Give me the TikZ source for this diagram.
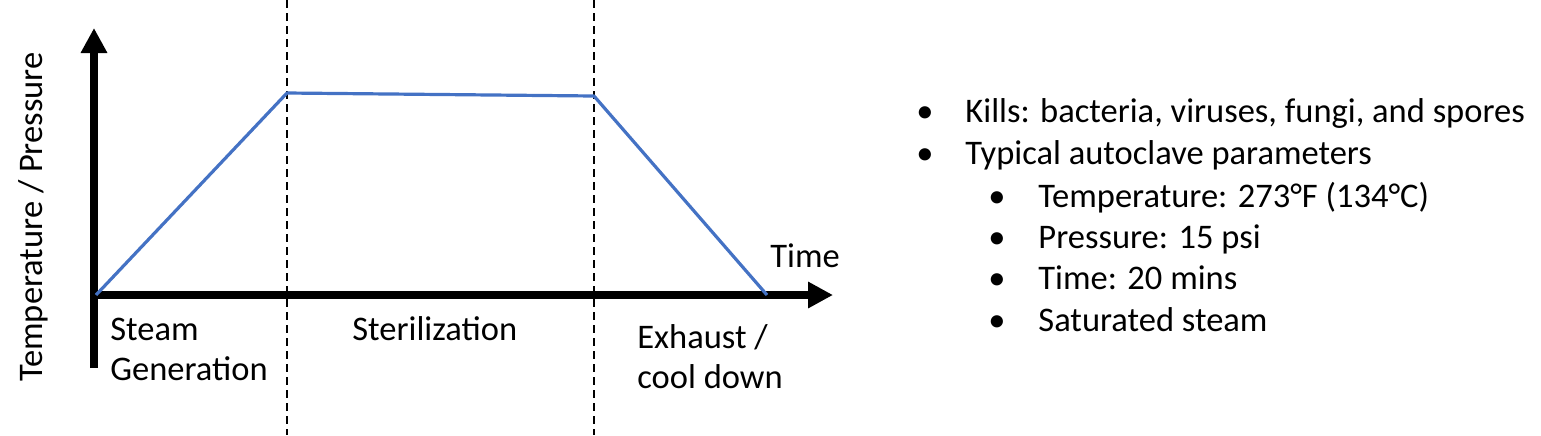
\documentclass[tikz,border=0pt]{standalone}
\usepackage{fontspec}
\setmainfont{Carlito}
\usepackage{xcolor}
\usetikzlibrary{arrows.meta}
\definecolor{curveblue}{HTML}{4472C4}

\begin{document}
\begin{tikzpicture}[x=0.5pt,y=-0.5pt,
		lbl/.style={anchor=base west,inner sep=0pt,font=\fontsize{17.25}{21}\selectfont},
		axis/.style={line width=4pt,-{Triangle[length=12.5pt,width=12.5pt]}},
		phase/.style={line width=1.4pt,dash pattern=on 4.2pt off 2.3pt}]
		\useasboundingbox (0,0) rectangle (1541,435);
		
		% phase borders
		\foreach \px/\nm in {287/a, 594/b}{
			\coordinate (top\nm) at (\px,0);
			\coordinate (bot\nm) at (\px,435);
			\draw[phase] (top\nm) -- (bot\nm);
		}
		
		% axes
		\coordinate (ybot) at (94,368);
		\coordinate (ytip) at (94,28);
		\coordinate (xleft) at (90,295);
		\coordinate (xtip) at (833,295);
		\draw[axis] (ybot) -- (ytip);
		\draw[axis] (xleft) -- (xtip);
		
		% cycle curve
		\coordinate (start) at (96,295);
		\coordinate (rise) at (287,93);
		\coordinate (hold) at (594,96);
		\coordinate (stop) at (767,295);
		\draw[curveblue, line width=1.6pt, line join=round] (start) -- (rise) -- (hold) -- (stop);
		
		\node[lbl, anchor=base, rotate=90] (ylabel) at (42,217) {Temperature / Pressure};
		\node[lbl] (xlabel) at (770,267) {Time};
		
		\node[lbl] (steam) at (110,340) {Steam};
		\node[lbl] (gen) at (110,380) {Generation};
		\node[lbl] (steril) at (352,340) {Sterilization};
		\node[lbl] (exh) at (637,348) {Exhaust /};
		\node[lbl] (cool) at (637,388) {cool down};
		
		% bullet list
		\foreach \yy/\txt [count=\i] in {122/{Kills: bacteria, viruses, fungi, and spores}, 164/{Typical autoclave parameters}}{
			\node[lbl, anchor=base] (dotA\i) at (925,\yy) {•};
			\node[lbl] (itemA\i) at (965,\yy) {\txt};
		}
		\foreach \yy/\txt [count=\i] in {207/{Temperature: 273°F (134°C)}, 248/{Pressure: 15 psi}, 289/{Time: 20 mins}, 331/{Saturated steam}}{
			\node[lbl, anchor=base] (dotB\i) at (997,\yy) {•};
			\node[lbl] (itemB\i) at (1038,\yy) {\txt};
		}
	\end{tikzpicture}
\end{document}
